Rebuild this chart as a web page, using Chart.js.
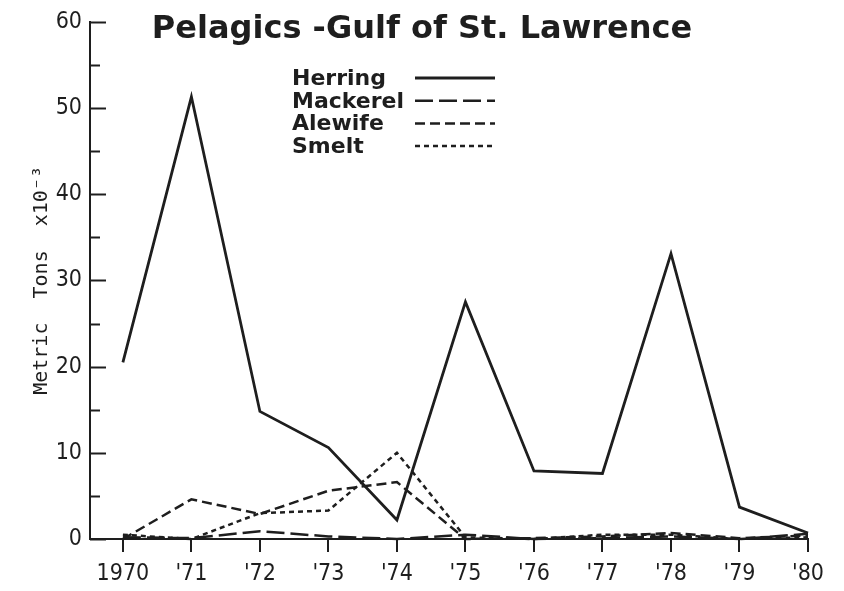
<!DOCTYPE html>
<html>
<head>
<meta charset="utf-8">
<script src="https://cdn.jsdelivr.net/npm/chart.js@4.4.1/dist/chart.umd.min.js"></script>
<style>
  html, body { margin: 0; padding: 0; background: #fff; }
  #wrap { width: 844px; height: 591px; position: relative; }
</style>
</head>
<body>
<div id="wrap"><canvas id="chart1"></canvas></div>
<script>

const inkColor = "#1e1e1e"

const years = [1970, 1971, 1972, 1973, 1974, 1975, 1976, 1977, 1978, 1979, 1980];
const yearLabels = ["1970", "'71", "'72", "'73", "'74", "'75", "'76", "'77", "'78", "'79", "'80"];

const herring  = [20.5, 51.3, 14.8, 10.6, 2.2, 27.5, 7.9, 7.6, 33.1, 3.7, 0.7];
const mackerel = [0.2, 0.1, 0.9, 0.3, 0.0, 0.5, 0.0, 0.1, 0.3, 0.0, 0.6];
const alewife  = [0.0, 4.6, 2.9, 5.6, 6.6, 0.0, 0.1, 0.3, 0.7, 0.1, 0.4];
const smelt    = [0.5, 0.0, 3.0, 3.3, 10.0, 0.2, 0.0, 0.5, 0.5, 0.0, 0.2];

const titleText = "Pelagics -Gulf of St. Lawrence";
const yTitle = "Metric  Tons  x10\u207B\u00B3";

function series(label, values, dash, width) {
    return {
        label: label,
        data: years.map((yr, i) => ({x: yr, y: values[i]})),
        borderColor: inkColor,
        borderWidth: width,
        borderDash: dash,
        pointRadius: 0,
        tension: 0,
        fill: false,
        clip: 4
    };
}

// title + legend drawn in the canvas, legend has the line sample after the text
const drawExtras = {
    id: 'drawExtras',
    afterDraw(chart) {
        const ctx = chart.ctx;
        ctx.save();
        ctx.fillStyle = inkColor;
        ctx.font = "bold 32px 'DejaVu Sans'";
        ctx.textAlign = 'center';
        ctx.textBaseline = 'alphabetic';
        ctx.fillText(titleText, chart.width / 2, 38);

        ctx.font = "bold 22px 'DejaVu Sans'";
        ctx.textAlign = 'left';
        chart.data.datasets.forEach((ds, i) => {
            const base = 85 + i * 22.7;
            ctx.fillText(ds.label, 292, base);
            ctx.beginPath();
            ctx.setLineDash(ds.borderDash);
            ctx.lineWidth = ds.borderWidth;
            ctx.strokeStyle = inkColor;
            ctx.moveTo(415, base - 7);
            ctx.lineTo(495, base - 7);
            ctx.stroke();
        });
        ctx.setLineDash([]);

        // y ticks point into the plot
        const ys = chart.scales.y;
        ctx.lineWidth = 2;
        ys.ticks.forEach(t => {
            const py = Math.round(ys.getPixelForValue(t.value)) + 0.5;
            const len = t.value % 10 === 0 ? 16 : 10;
            ctx.beginPath();
            ctx.moveTo(ys.right, py);
            ctx.lineTo(ys.right + len, py);
            ctx.stroke();
        });
        ctx.restore();
    }
};

var ctx = document.getElementById('chart1').getContext('2d');
var chart = new Chart(ctx, {
    type: 'line',
    data: {
        datasets: [
            series('Herring', herring, [], 2.8),
            series('Mackerel', mackerel, [18, 6], 2.5),
            series('Alewife', alewife, [10, 5], 2.5),
            series('Smelt', smelt, [5, 4], 2.5)
        ]
    },
    options: {
        responsive: true,
        maintainAspectRatio: false,
        animation: false,
        layout: { padding: { top: 19, right: 36, bottom: 0, left: 0 } },
        plugins: {
            legend: { display: false },
            title: { display: false },
            tooltip: { enabled: false }
        },
        scales: {
            x: {
                type: 'linear',
                min: 1969.52,
                max: 1980,
                afterBuildTicks: s => { s.ticks = years.map(v => ({value: v})); },
                afterFit: s => { s.height = 52; },
                border: { color: inkColor, width: 2 },
                grid: { drawOnChartArea: false, tickLength: 13, color: inkColor, lineWidth: 2 },
                ticks: {
                    color: inkColor,
                    padding: 8,
                    maxRotation: 0,
                    autoSkip: false,
                    font: { family: "'Liberation Sans Narrow', 'DejaVu Sans Condensed', sans-serif", size: 23 },
                    callback: v => yearLabels[years.indexOf(v)]
                }
            },
            y: {
                min: 0,
                max: 60,
                afterFit: s => { s.width = 90; },
                border: { color: inkColor, width: 2 },
                grid: { drawOnChartArea: false, drawTicks: false },
                ticks: {
                    stepSize: 5,
                    color: inkColor,
                    padding: 8,
                    autoSkip: false,
                    font: { family: "'Liberation Sans Narrow', 'DejaVu Sans Condensed', sans-serif", size: 23 },
                    callback: v => (v % 10 === 0 ? v : '')
                },
                title: {
                    display: true,
                    text: yTitle,
                    color: inkColor,
                    padding: { top: 30, bottom: 0 },
                    font: { family: "'DejaVu Sans Mono', 'Liberation Mono', monospace", size: 20 }
                }
            }
        }
    },
    plugins: [drawExtras]
});
</script>
</body>
</html>
